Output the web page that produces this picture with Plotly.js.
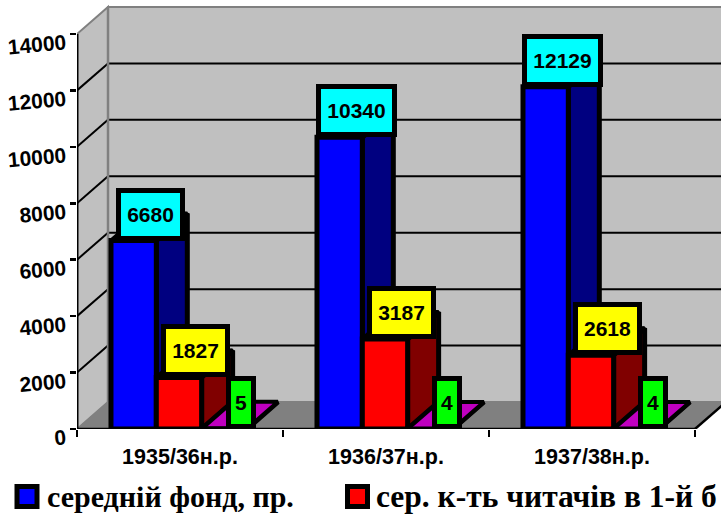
<!DOCTYPE html>
<html><head><meta charset="utf-8">
<script src="https://cdn.plot.ly/plotly-3.0.0.min.js"></script>
<style>html,body{margin:0;padding:0;background:#fff;overflow:hidden}</style></head>
<body><div id="chart" style="width:721px;height:518px"></div>
<script>
const years = ['1935/36н.р.', '1936/37н.р.', '1937/38н.р.'];
const fund = [6680, 10340, 12129];
const readers = [1827, 3187, 2618];
const third = [5, 4, 4];
const yTicks = [0, 2000, 4000, 6000, 8000, 10000, 12000, 14000];
const legendNames = ['середній фонд, пр.', 'сер. к-ть читачів в 1-й б'];

const W = 721, H = 518, ML = 77, MB = 89, MT = 4;
const catW = 206, pxPerUnit = 395 / 14000;
const dx = 31 / catW, dy = 27 / pxPerUnit;
const xMax = (W - ML) / catW, yMax = (H - MB - MT) / pxPerUnit;
const barW = 0.22;
const idx = [0, 1, 2];
const px2x = p => (p - ML) / (W - ML);
const px2y = p => (H - MB - p) / (H - MB - MT);

const series = [
  {vals: fund, off: 0.165, front: '#0000ff', side: '#000080', top: '#000080', label: '#00ffff', z: 1, name: legendNames[0]},
  {vals: readers, off: 0.385, front: '#ff0000', side: '#800000', top: '#800000', label: '#ffff00', z: 3, name: legendNames[1]},
  {vals: third, off: 0.605, front: '#00ff00', side: '#008000', top: '#c000c0', label: '#00ff00', z: 5, name: 'ряд 3'}
];

const traces = [], annotations = [], shapes = [];
const BL = 5;

// walls and floor
const poly = (pts, fill, lc, lw) => ({type: 'path', xref: 'x', yref: 'y', layer: 'below',
  path: 'M' + pts.map(p => p[0] + ',' + p[1]).join('L') + 'Z', fillcolor: fill, line: {color: lc, width: lw}});
const seg = (a, b, c, w) => ({type: 'line', xref: 'x', yref: 'y', layer: 'below',
  x0: a[0], y0: a[1], x1: b[0], y1: b[1], line: {color: c, width: w}});
const yTop = yTicks[yTicks.length - 1];
shapes.push(poly([[0, 0], [dx, dy], [dx, yTop + dy], [0, yTop]], '#c0c0c0', '#808080', 2));
shapes.push(poly([[dx, dy], [3 + dx, dy], [3 + dx, yTop + dy], [dx, yTop + dy]], '#c0c0c0', '#808080', 2));
shapes.push(poly([[0, 0], [3, 0], [3 + dx, dy], [dx, dy]], '#808080', '#808080', 1));
yTicks.slice(1, -1).forEach(v => {
  shapes.push(seg([0, v], [dx, v + dy], '#000', 2));
  shapes.push(seg([dx, v + dy], [3 + dx, v + dy], '#000', 2));
});
shapes.push(seg([dx, dy], [dx, yTop + dy], '#808080', 2.5));
shapes.push(seg([0, 0], [3, 0], '#000', 2.5));
shapes.push(seg([3, 0], [3 + dx, dy], '#000', 2.5));
shapes.push(seg([0, 0], [0, yTop], '#000', 3));

series.forEach(s => {
  const sx = [], sy = [], tx = [], ty = [];
  idx.forEach(i => {
    const x0 = i + s.off, x1 = x0 + barW, v = s.vals[i];
    sx.push(x1, x1 + dx, x1 + dx, x1, x1, null);
    sy.push(0, dy, v + dy, v, 0, null);
    tx.push(x0, x0 + dx, x1 + dx, x1, x0, null);
    ty.push(v, v + dy, v + dy, v, v, null);
    const digits = String(v).length;
    annotations.push({
      xref: 'x', yref: 'y', x: x0 + barW / 2 + dx / 2, y: v, yshift: 26.5, xshift: 1,
      text: '<b>' + v + '</b>', showarrow: false, xanchor: 'center', yanchor: 'middle',
      font: {family: 'Liberation Sans', size: 21, color: '#000'},
      bgcolor: s.label, bordercolor: '#000', borderwidth: 5, borderpad: 0,
      width: digits === 1 ? 20 : (digits === 5 ? 71 : 59), height: 43, align: 'center'
    });
  });
  traces.push({type: 'scatter', mode: 'lines', x: sx, y: sy, fill: 'toself', fillcolor: s.side,
    line: {color: '#000', width: BL}, zorder: s.z, showlegend: false, hoverinfo: 'skip', cliponaxis: false});
  traces.push({type: 'scatter', mode: 'lines', x: tx, y: ty, fill: 'toself', fillcolor: s.top,
    line: {color: '#000', width: BL - 1}, zorder: s.z, showlegend: false, hoverinfo: 'skip', cliponaxis: false});
  traces.push({type: 'bar', x: idx, y: s.vals, offset: s.off, width: barW, name: s.name,
    marker: {color: s.front, line: {color: '#000', width: BL}}, zorder: s.z + 1, showlegend: false, cliponaxis: false});
});

// legend drawn in page pixels
const legend = [[17, legendNames[0], series[0].front, 45, 30], [347.5, legendNames[1], series[1].front, 374, 31.5]];
legend.forEach(l => {
  shapes.push({type: 'rect', xref: 'paper', yref: 'paper', layer: 'above',
    x0: px2x(l[0]), x1: px2x(l[0] + 20), y0: px2y(506.5), y1: px2y(486.5),
    fillcolor: l[2], line: {color: '#000', width: 5}});
  annotations.push({xref: 'paper', yref: 'paper', x: px2x(l[3]), y: px2y(497), xanchor: 'left', yanchor: 'middle',
    text: '<b>' + l[1] + '</b>', showarrow: false,
    font: {family: 'Liberation Serif', size: l[4], color: '#000'}});
});

const layout = {
  width: W, height: H, margin: {l: ML, r: 0, t: MT, b: MB, pad: 0},
  paper_bgcolor: '#fff', plot_bgcolor: '#fff', barmode: 'overlay', showlegend: false, hovermode: false,
  font: {family: 'Liberation Sans', color: '#000'},
  xaxis: {range: [0, xMax], tickmode: 'array', tickvals: [0.5, 1.5, 2.5], ticktext: years.map(t => '<b>' + t + '</b>'),
    ticks: '', showgrid: false, zeroline: false, showline: false, tickfont: {size: 21.5, family: 'Liberation Sans'},
    ticklabelstandoff: 12,
    minor: {tickmode: 'array', tickvals: [0, 1, 2, 3], ticks: 'outside', ticklen: 7, tickwidth: 2.5, tickcolor: '#000', showgrid: false}},
  yaxis: {range: [0, yMax], tickmode: 'array', tickvals: yTicks, ticktext: yTicks.map(t => '<b>' + t + '</b>'),
    ticks: 'outside', ticklen: 6, tickwidth: 2.5, tickcolor: '#000', showgrid: false, zeroline: false, showline: false,
    tickangle: -5, ticklabelshift: 8, tickfont: {size: 21, family: 'Liberation Sans'}},
  shapes, annotations
};
Plotly.newPlot('chart', traces, layout, {displayModeBar: false, staticPlot: true});
</script></body></html>
